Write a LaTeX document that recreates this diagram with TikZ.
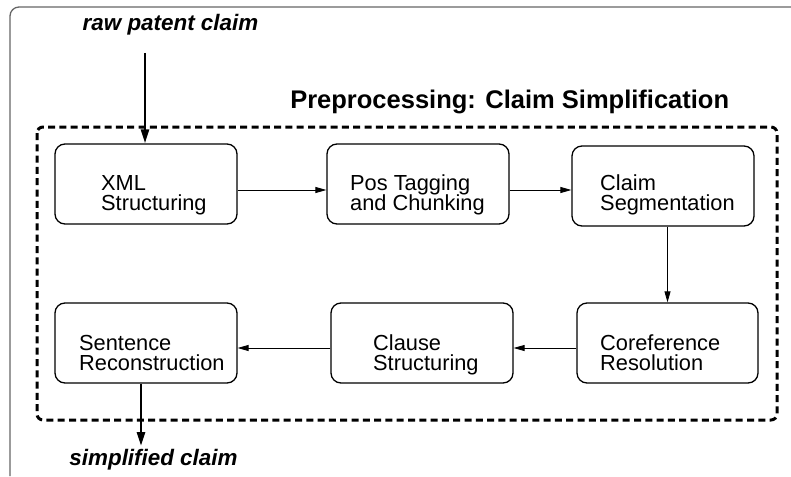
\documentclass[tikz,border=0pt]{standalone}
\usepackage{fontspec}
\setmainfont{Liberation Sans}
\usetikzlibrary{arrows.meta}
\newcommand{\twolines}[2]{\vtop{\baselineskip=20.8pt\hbox{#1}\hbox{#2}}}
\tikzset{
  stepbox/.style={draw, line width=1.3pt, rounded corners=10pt, minimum width=182pt, minimum height=80pt, inner sep=0pt},
  boxtext/.style={font=\fontsize{21.8pt}{21pt}\selectfont, anchor=base west, inner sep=0pt},
  thinarrow/.style={line width=0.85pt, -{Triangle[length=11pt,width=6pt]}},
  thickarrow/.style={line width=2.6pt, -{Triangle[length=14pt,width=8pt]}},
  iolabel/.style={font=\fontsize{22.4pt}{24pt}\selectfont\bfseries\itshape, anchor=base, inner sep=0pt},
  titlelabel/.style={font=\fontsize{25.5pt}{27pt}\selectfont\bfseries, anchor=base, inner sep=0pt},
  framebox/.style={draw=black!60, line width=1.3pt},
  stagebox/.style={draw, line width=3pt, dash pattern=on 7pt off 4.3pt, rounded corners=6pt}
}
\begin{document}
\begin{tikzpicture}[x=1pt, y=-1pt]
\useasboundingbox (0,0) rectangle (791,476);
\fill[white] (0,0) rectangle (791,476);
% outer frame (continues beyond the picture)
\draw[framebox] (10,476) -- (10,16) arc[start angle=180, end angle=90, radius=9pt] -- (791,7);
% dashed stage box
\draw[stagebox] (37,127) rectangle (777,420);
% labels
\node[iolabel] (raw) at (170.5,30.5) {raw patent claim};
\node[iolabel] (simp) at (153.5,465) {simplified claim};
\node[titlelabel] (title) at (509.7,108) {Preprocessing: Claim Simplification};
% boxes
\node[stepbox] (b1) at (146,184) {};
\node[stepbox] (b2) at (418,184) {};
\node[stepbox] (b3) at (663,186) {};
\node[stepbox, minimum width=181pt] (b4) at (667.5,343) {};
\node[stepbox] (b5) at (422,343) {};
\node[stepbox] (b6) at (146,343) {};
% box texts
\node[boxtext] (t1) at (101,190) {\twolines{XML}{Structuring}};
\node[boxtext] (t2) at (350,190) {\twolines{Pos Tagging}{and Chunking}};
\node[boxtext] (t3) at (600,190) {\twolines{Claim}{Segmentation}};
\node[boxtext] (t4) at (600,350) {\twolines{Coreference}{Resolution}};
\node[boxtext] (t5) at (373,350) {\twolines{Clause}{Structuring}};
\node[boxtext] (t6) at (79,350) {\twolines{Sentence}{Reconstruction}};
% connectors
\coordinate (in) at (145,53);
\coordinate (out) at (141,446);
\draw[thickarrow] (in) -- (in |- b1.north);
\draw[thinarrow] ([yshift=-6pt]b1.east) -- ([yshift=-6pt]b1.east -| b2.west);
\draw[thinarrow] ([yshift=-6pt]b2.east) -- ([yshift=-6pt]b2.east -| b3.west);
\draw[thinarrow] (b3.south -| b4.north) -- (b4.north);
\draw[thinarrow] ([yshift=-5pt]b4.west) -- ([yshift=-5pt]b4.west -| b5.east);
\draw[thinarrow] ([yshift=-5pt]b5.west) -- ([yshift=-5pt]b5.west -| b6.east);
\draw[thickarrow] (out |- b6.south) -- (out);
\end{tikzpicture}
\end{document}
